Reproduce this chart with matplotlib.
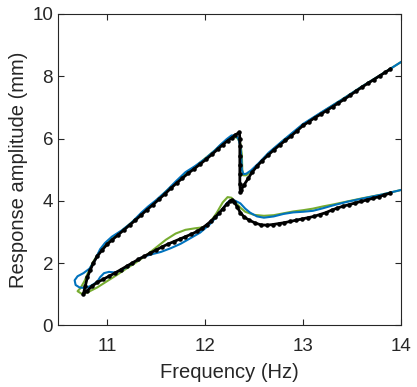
import matplotlib
matplotlib.use('Agg')
import matplotlib.pyplot as plt

# black: measured branch (dots), one continuous path
black_f = [13.89, 13.84, 13.78, 13.72, 13.66, 13.60, 13.54, 13.48, 13.42, 13.36,
           13.30, 13.24, 13.18, 13.12, 13.06, 13.00, 12.94, 12.88, 12.82, 12.76,
           12.70, 12.64, 12.58, 12.53, 12.48, 12.44, 12.40, 12.37, 12.36,
           12.355, 12.355, 12.355, 12.355, 12.355, 12.355, 12.35,
           12.31, 12.27, 12.23, 12.18, 12.13, 12.07, 12.01, 11.95, 11.89, 11.83,
           11.77, 11.71, 11.65, 11.59, 11.53, 11.47, 11.41, 11.35, 11.29, 11.23,
           11.17, 11.11, 11.05, 11.00, 10.95, 10.90, 10.86, 10.83, 10.80, 10.78,
           10.76,
           10.80, 10.85, 10.90, 10.96, 11.02, 11.08, 11.14, 11.20, 11.26, 11.32,
           11.38, 11.44, 11.50, 11.56, 11.62, 11.68, 11.74, 11.80, 11.86, 11.92,
           11.97, 12.02, 12.06, 12.10, 12.14, 12.18, 12.22, 12.25, 12.27,
           12.30, 12.33, 12.36, 12.40, 12.45, 12.51, 12.57, 12.63, 12.69, 12.75,
           12.81, 12.87, 12.93, 12.99, 13.05, 13.11, 13.17, 13.23, 13.29, 13.35,
           13.41, 13.47, 13.53, 13.59, 13.65, 13.71, 13.77, 13.83, 13.89]
black_a = [8.23, 8.13, 8.01, 7.89, 7.77, 7.65, 7.52, 7.39, 7.26, 7.14,
           7.02, 6.90, 6.78, 6.67, 6.54, 6.42, 6.25, 6.09, 5.94, 5.79,
           5.63, 5.46, 5.28, 5.11, 4.92, 4.72, 4.52, 4.36, 4.28,
           4.55, 4.85, 5.15, 5.45, 5.75, 6.00, 6.20,
           6.12, 6.02, 5.93, 5.80, 5.66, 5.49, 5.33, 5.18, 5.03, 4.89,
           4.73, 4.57, 4.40, 4.22, 4.05, 3.88, 3.72, 3.55, 3.38, 3.22,
           3.06, 2.90, 2.74, 2.60, 2.42, 2.22, 2.00, 1.78, 1.55, 1.28,
           1.02,
           1.12, 1.27, 1.38, 1.48, 1.58, 1.68, 1.79, 1.90, 2.01, 2.12,
           2.22, 2.32, 2.42, 2.52, 2.61, 2.69, 2.77, 2.85, 2.93, 3.02,
           3.12, 3.24, 3.35, 3.47, 3.60, 3.74, 3.89, 3.98, 4.02,
           3.95, 3.80, 3.62, 3.48, 3.38, 3.29, 3.23, 3.22, 3.24, 3.27,
           3.30, 3.34, 3.38, 3.42, 3.46, 3.50, 3.56, 3.62, 3.70, 3.77,
           3.83, 3.88, 3.93, 3.98, 4.03, 4.08, 4.13, 4.19, 4.25]

# blue model
blue_f = [14.00, 13.80, 13.60, 13.40, 13.20, 13.00, 12.80, 12.65, 12.55, 12.47,
          12.42, 12.39, 12.375, 12.37, 12.36, 12.34, 12.31, 12.27, 12.22, 12.15,
          12.10, 12.00, 11.90, 11.80, 11.70, 11.60, 11.50, 11.42, 11.35, 11.25,
          11.15, 11.05, 10.98, 10.93, 10.90, 10.87, 10.82, 10.76, 10.70, 10.67,
          10.68, 10.72, 10.78, 10.84, 10.90, 10.93, 10.97, 11.02, 11.08, 11.15,
          11.25, 11.35, 11.45, 11.55, 11.65, 11.75, 11.85, 11.95, 12.05, 12.12,
          12.18, 12.23, 12.27, 12.31, 12.36, 12.41, 12.46, 12.53, 12.60, 12.70,
          12.80, 12.90, 13.00, 13.10, 13.20, 13.30, 13.45, 13.60, 13.80, 14.00]
blue_a = [8.46, 8.06, 7.67, 7.26, 6.87, 6.47, 5.95, 5.55, 5.22, 4.98,
          4.87, 4.86, 5.00, 5.40, 5.75, 6.00, 6.10, 6.10, 5.98, 5.78,
          5.62, 5.35, 5.12, 4.92, 4.62, 4.30, 4.02, 3.82, 3.62, 3.30,
          3.05, 2.85, 2.65, 2.45, 2.25, 2.05, 1.82, 1.68, 1.58, 1.45,
          1.30, 1.22, 1.20, 1.28, 1.40, 1.55, 1.68, 1.72, 1.70, 1.78,
          1.98, 2.18, 2.28, 2.36, 2.48, 2.62, 2.80, 2.98, 3.25, 3.50,
          3.75, 3.95, 4.03, 4.00, 3.92, 3.75, 3.62, 3.50, 3.46, 3.50,
          3.58, 3.63, 3.65, 3.68, 3.76, 3.85, 3.97, 4.07, 4.20, 4.35]

# green model
green_f = [14.00, 13.80, 13.60, 13.40, 13.20, 13.00, 12.80, 12.65, 12.55, 12.47,
           12.42, 12.39, 12.38, 12.375, 12.36, 12.33, 12.30, 12.25, 12.18, 12.10,
           12.00, 11.90, 11.80, 11.70, 11.60, 11.50, 11.40, 11.30, 11.20, 11.10,
           11.00, 10.92, 10.86, 10.81, 10.77, 10.73, 10.70, 10.74, 10.80, 10.90,
           11.00, 11.10, 11.20, 11.30, 11.40, 11.50, 11.60, 11.70, 11.80, 11.90,
           11.98, 12.05, 12.12, 12.18, 12.23, 12.27, 12.31, 12.36, 12.41, 12.50,
           12.60, 12.70, 12.80, 12.90, 13.00, 13.10, 13.20, 13.30, 13.45, 13.60,
           13.80, 14.00]
green_a = [8.46, 8.06, 7.67, 7.26, 6.86, 6.45, 5.94, 5.53, 5.20, 4.95,
           4.82, 4.82, 5.00, 5.50, 5.85, 6.02, 6.05, 5.98, 5.85, 5.62,
           5.36, 5.10, 4.86, 4.58, 4.30, 4.00, 3.72, 3.44, 3.17, 2.92,
           2.64, 2.35, 2.05, 1.72, 1.42, 1.20, 1.10, 1.02, 1.06, 1.22,
           1.42, 1.62, 1.83, 2.03, 2.25, 2.50, 2.75, 2.95, 3.07, 3.12,
           3.15, 3.30, 3.62, 3.95, 4.12, 4.10, 3.95, 3.78, 3.65, 3.55,
           3.52, 3.54, 3.60, 3.66, 3.70, 3.75, 3.82, 3.88, 3.98, 4.08,
           4.20, 4.35]

plt.rcParams['font.family'] = ['Liberation Sans', 'DejaVu Sans']

fig = plt.figure(figsize=(4.17, 3.87), dpi=100)
ax = fig.add_axes([0.139, 0.159, 0.823, 0.805])

ax.plot(green_f, green_a, color='#77AC30', lw=1.5)
ax.plot(blue_f, blue_a, color='#0072BD', lw=1.5)
ax.plot(black_f, black_a, '.-', color='k', lw=2.0, ms=4.5)

ax.set_xlim(10.5, 14)
ax.set_ylim(0, 10)
ax.set_xticks([11, 12, 13, 14])
ax.set_yticks([0, 2, 4, 6, 8, 10])
ax.tick_params(direction='in', length=4, top=True, right=True,
               labelsize=13.5, colors='#262626', width=0.8)
ax.tick_params(axis='x', pad=9)
for s in ax.spines.values():
    s.set_color('#262626')
    s.set_linewidth(0.8)
ax.set_xlabel('Frequency (Hz)', fontsize=14.5, color='#262626', labelpad=6)
ax.set_ylabel('Response amplitude (mm)', fontsize=14.5, color='#262626', labelpad=3)

fig.savefig('out.png', dpi=100)
